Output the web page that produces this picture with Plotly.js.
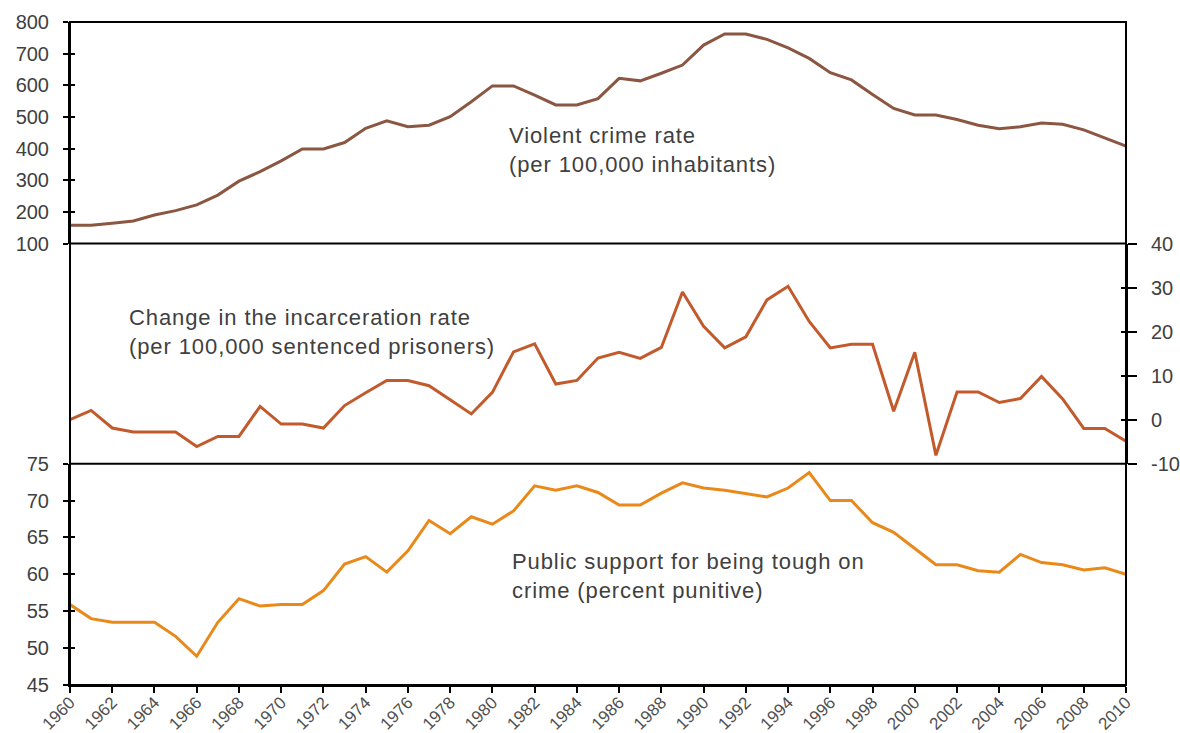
<!DOCTYPE html>
<html>
<head>
<meta charset="utf-8">
<script src="https://cdn.plot.ly/plotly-3.0.1.min.js"></script>
<style>
html,body{margin:0;padding:0;background:#fff;}
#chart{width:1180px;height:733px;}
#chart .annotation-text{letter-spacing:0.9px;}
</style>
</head>
<body>
<div id="chart"></div>
<script>
const years = [];
for (let y = 1960; y <= 2010; y++) years.push(y);

const violentCrime = [158,158,164,171,190,204,222,253,297,327,361,399,399,419,464,488,469,474,501,548,598,598,569,538,538,558,622,614,638,664,727,762,762,745,718,685,640,617,571,527,506,506,492,474,463,469,481,477,459,434,408];

const incarcerationChange = [0,2.1,-1.9,-2.8,-2.8,-2.8,-6.1,-3.8,-3.8,3.0,-1.0,-1.0,-1.9,3.2,6.1,8.9,8.9,7.7,4.5,1.3,6.2,15.4,17.2,8.1,8.9,14.0,15.3,13.9,16.4,29.0,21.2,16.3,18.8,27.2,30.3,22.3,16.3,17.1,17.1,1.9,15.3,-8.1,6.3,6.3,3.9,4.8,9.8,4.7,-2.0,-2.0,-4.9];

const publicSupport = [55.9,54.0,53.5,53.5,53.5,51.6,48.9,53.5,56.7,55.7,55.9,55.9,57.8,61.4,62.4,60.3,63.2,67.3,65.5,67.8,66.8,68.6,72.0,71.4,72.0,71.1,69.4,69.4,71.0,72.4,71.7,71.4,70.9,70.5,71.7,73.8,70.0,70.0,67.0,65.7,63.5,61.3,61.3,60.5,60.3,62.7,61.6,61.3,60.6,60.9,60.0];

const xTickVals = [];
for (let y = 1960; y <= 2010; y += 2) xTickVals.push(y);

const y2TickVals = [-10, 0, 10, 20, 30, 40];
const y2TickText = ['-10', '0', '10', '20', '30', '40'];

const labels = {
  violent: "Violent crime rate<br>(per 100,000 inhabitants)",
  incarceration: "Change in the incarceration rate<br>(per 100,000 sentenced prisoners)",
  support: "Public support for being tough on<br>crime (percent punitive)"
};

const txtColor = '#404040';
const fontFam = 'Liberation Sans, Arial, sans-serif';
const D1 = 0.6659, D2 = 0.3338;

const traces = [
  {x: years, y: violentCrime, xaxis: 'x', yaxis: 'y', type: 'scatter', mode: 'lines',
   line: {color: '#8B5742', width: 3}, hoverinfo: 'skip'},
  {x: years, y: incarcerationChange, xaxis: 'x', yaxis: 'y2', type: 'scatter', mode: 'lines',
   line: {color: '#C25A2C', width: 3}, hoverinfo: 'skip'},
  {x: years, y: publicSupport, xaxis: 'x', yaxis: 'y3', type: 'scatter', mode: 'lines',
   line: {color: '#E8891A', width: 3}, hoverinfo: 'skip'}
];

function yAx(dom, range, dtick, side, extra) {
  return Object.assign({
    domain: dom, range: range, dtick: dtick, tick0: range[0], side: side, anchor: 'x',
    showgrid: false, zeroline: false, showline: true, linecolor: '#000', linewidth: 2,
    ticks: 'outside', ticklen: 9, tickwidth: 2, tickcolor: '#000',
    tickfont: {size: 20, color: txtColor, family: fontFam},
    ticklabelstandoff: 10, fixedrange: true
  }, extra || {});
}
function yOverlay(base, range, dtick, side) {
  return {
    overlaying: base, range: range, dtick: dtick, tick0: range[0], side: side, anchor: 'x',
    showgrid: false, zeroline: false, showline: false,
    ticks: 'inside', ticklen: 5, tickwidth: 2, tickcolor: '#000',
    showticklabels: false, fixedrange: true
  };
}

const annFont = {size: 22, color: txtColor, family: fontFam};

const layout = {
  width: 1180, height: 733,
  margin: {l: 70, r: 54, t: 22, b: 48},
  paper_bgcolor: '#fff', plot_bgcolor: '#fff',
  showlegend: false,
  font: {family: fontFam, color: txtColor},
  xaxis: {
    domain: [0, 1], range: [1960, 2010], anchor: 'y3',
    tickvals: xTickVals, ticktext: xTickVals.map(String), tickangle: -45,
    ticks: 'outside', ticklen: 6, tickwidth: 2, tickcolor: '#000',
    showline: true, linecolor: '#000', linewidth: 2, showgrid: false, zeroline: false,
    tickfont: {size: 17, color: '#505050', family: fontFam}, ticklabelstandoff: -7, fixedrange: true
  },
  yaxis: yAx([D1, 1], [100, 800], 100, 'left', {ticklen: 5}),
  yaxis4: yOverlay('y', [100, 800], 100, 'left'),
  yaxis2: yAx([D2, D1], [-10, 40], 10, 'right', {ticklen: 9, tickmode: 'array', tickvals: y2TickVals, ticktext: y2TickText}),
  yaxis5: yOverlay('y2', [-10, 40], 10, 'right'),
  yaxis3: yAx([0, D2], [45, 75], 5, 'left', {ticklen: 5}),
  yaxis6: yOverlay('y3', [45, 75], 5, 'left'),
  shapes: [
    {type: 'rect', xref: 'paper', yref: 'paper', x0: 0, x1: 1, y0: 0, y1: 1, line: {color: '#000', width: 2}},
    {type: 'line', xref: 'paper', yref: 'paper', x0: 0, x1: 1, y0: D1, y1: D1, line: {color: '#000', width: 2}},
    {type: 'line', xref: 'paper', yref: 'paper', x0: 0, x1: 1, y0: D2, y1: D2, line: {color: '#000', width: 2}}
  ],
  annotations: [
    {text: labels.violent, xref: 'x', yref: 'y', x: 1980.7, y: 397, xanchor: 'left', yanchor: 'middle',
     align: 'left', showarrow: false, font: annFont},
    {text: labels.incarceration, xref: 'x', yref: 'y2', x: 1962.7, y: 19.9, xanchor: 'left', yanchor: 'middle',
     align: 'left', showarrow: false, font: annFont},
    {text: labels.support, xref: 'x', yref: 'y3', x: 1980.85, y: 59.8, xanchor: 'left', yanchor: 'middle',
     align: 'left', showarrow: false, font: annFont}
  ]
};

traces.push({x: [1960], y: [100], xaxis: 'x', yaxis: 'y4', mode: 'none', type: 'scatter', hoverinfo: 'skip'});
traces.push({x: [1960], y: [0], xaxis: 'x', yaxis: 'y5', mode: 'none', type: 'scatter', hoverinfo: 'skip'});
traces.push({x: [1960], y: [45], xaxis: 'x', yaxis: 'y6', mode: 'none', type: 'scatter', hoverinfo: 'skip'});

Plotly.newPlot('chart', traces, layout, {displayModeBar: false, staticPlot: true});
</script>
</body>
</html>
